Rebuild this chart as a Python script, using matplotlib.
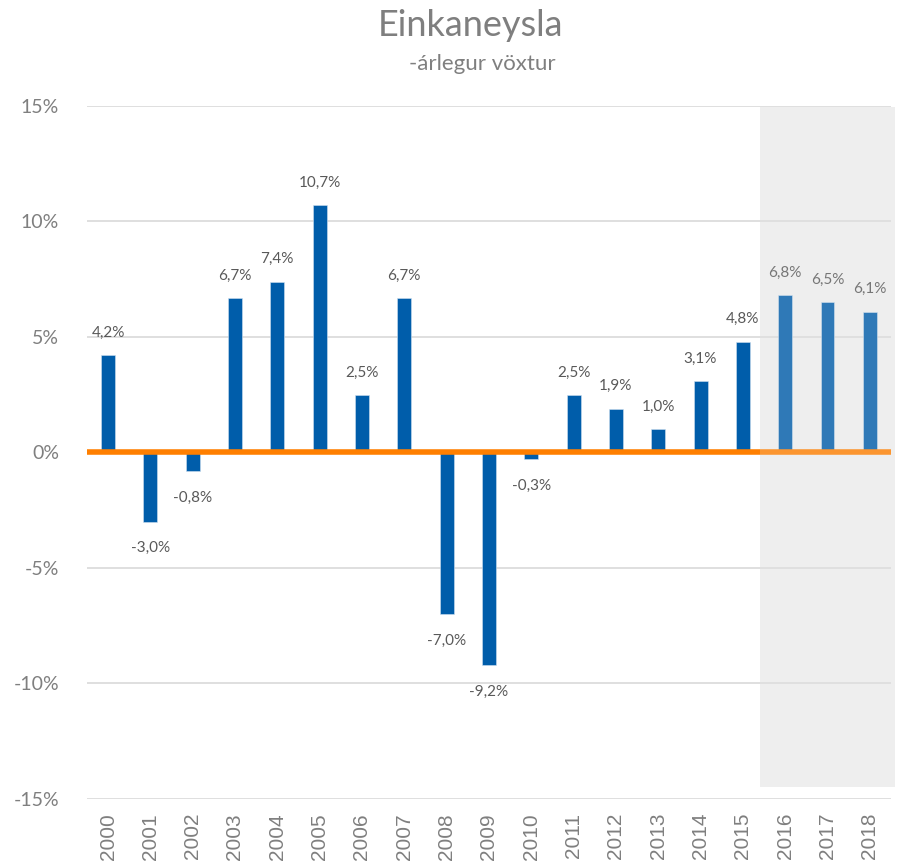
import matplotlib
matplotlib.use("Agg")
import matplotlib.pyplot as plt
from matplotlib.patches import Rectangle

years = [str(y) for y in range(2000, 2019)]
values = [4.2, -3.0, -0.8, 6.7, 7.4, 10.7, 2.5, 6.7, -7.0, -9.2, -0.3,
          2.5, 1.9, 1.0, 3.1, 4.8, 6.8, 6.5, 6.1]
labels = ["4,2%", "-3,0%", "-0,8%", "6,7%", "7,4%", "10,7%", "2,5%", "6,7%",
          "-7,0%", "-9,2%", "-0,3%", "2,5%", "1,9%", "1,0%", "3,1%", "4,8%",
          "6,8%", "6,5%", "6,1%"]
yticks = [-15, -10, -5, 0, 5, 10, 15]
ytick_labels = ["-15%", "-10%", "-5%", "0%", "5%", "10%", "15%"]
n_forecast = 3

plt.rcParams['font.family'] = ['Lato', 'DejaVu Sans']

fig = plt.figure(figsize=(8.99, 8.65), dpi=100)
ax = fig.add_axes([0.0966, 0.0763, 0.8945, 0.8012])

x = list(range(len(years)))
ax.set_xlim(-0.5, len(years) - 0.5)
ax.set_ylim(-15, 15)

for t in yticks:
    ax.axhline(t, color='#D9D9D9', lw=1.2, zorder=1)

# forecast shading
first_fc = len(years) - n_forecast
ax.add_patch(Rectangle((first_fc - 0.6, -14.5), n_forecast + 0.2, 29.46,
                       facecolor='#EEEEEE', edgecolor='none', zorder=0.5,
                       clip_on=False))

ax.bar(x, values, width=0.33, color='#005DAA', edgecolor='#CFE0F0',
       linewidth=0.4, zorder=2)
ax.axhline(0, color='#FF7F00', lw=4, zorder=3)

for xi, v, lab in zip(x, values, labels):
    if v >= 0:
        ax.annotate(lab, (xi, v), xytext=(0, 11), textcoords='offset points',
                    ha='center', va='bottom', fontsize=11, color='#595959', zorder=4)
    else:
        ax.annotate(lab, (xi, v), xytext=(0, -14), textcoords='offset points',
                    ha='center', va='top', fontsize=11, color='#595959', zorder=4)

# translucent overlay on forecast region
ax.add_patch(Rectangle((first_fc - 0.6, -14.5), n_forecast + 0.2, 29.46,
                       facecolor='#EEEEEE', edgecolor='none', alpha=0.2,
                       zorder=5, clip_on=False))

for s in ax.spines.values():
    s.set_visible(False)
ax.set_yticks(yticks)
ax.set_yticklabels(ytick_labels, fontsize=14, color='#7F7F7F')
ax.set_xticks(x)
ax.set_xticklabels(years, rotation=90, fontsize=15, color='#7F7F7F',
                   family=['Liberation Sans', 'DejaVu Sans'])
ax.tick_params(axis='both', length=0)
ax.tick_params(axis='y', pad=20)
ax.tick_params(axis='x', pad=10)

fig.text(0.523, 0.971, "Einkaneysla", ha='center', va='center', fontsize=26,
         color='#7F7F7F')
fig.text(0.537, 0.926, "-árlegur vöxtur", ha='center', va='center', fontsize=16,
         color='#7F7F7F')

fig.savefig("out.png", dpi=100)
